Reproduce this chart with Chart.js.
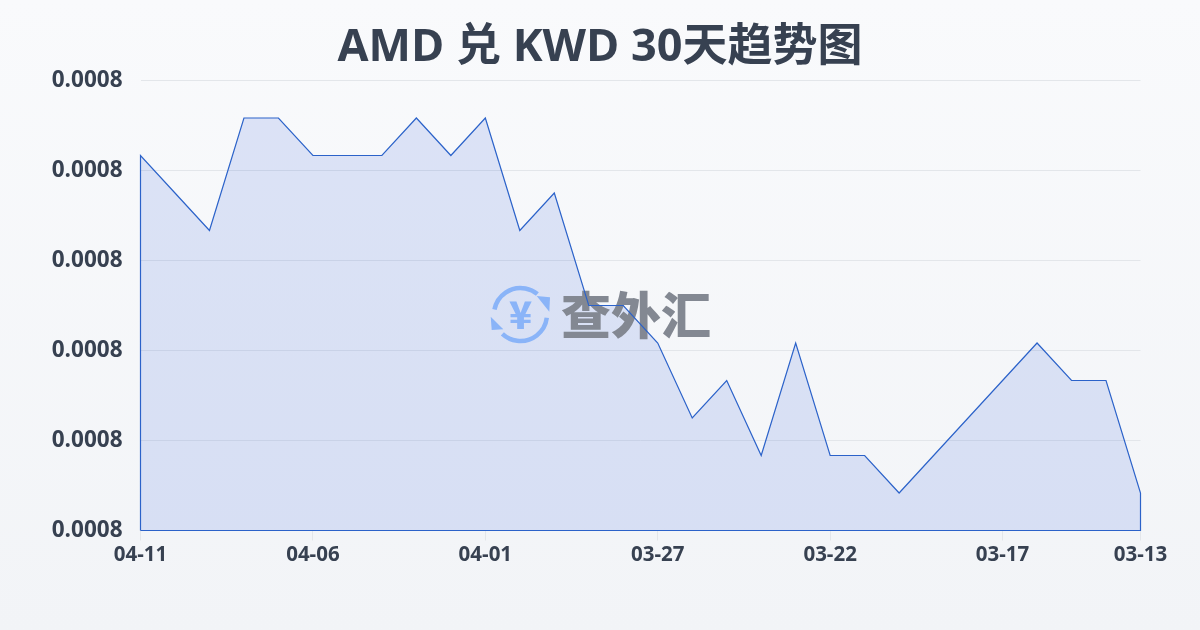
<!DOCTYPE html>
<html>
<head>
<meta charset="utf-8">
<title>AMD 兑 KWD</title>
<script src="https://cdn.jsdelivr.net/npm/chart.js@4"></script>
<style>
  html, body { margin: 0; padding: 0; }
  body { width: 1200px; height: 630px; overflow: hidden; position: relative;
         background: linear-gradient(180deg, #f9fafc 0%, #f2f4f7 100%); }
  canvas { position: absolute; left: 0; top: 0; }
</style>
</head>
<body>
<canvas id="trendChart" width="1200" height="630"></canvas>
<script>
const titleText = 'AMD 兑 KWD 30天趋势图';
const watermarkText = '查外汇';
const dates = ['04-11','04-10','04-09','04-08','04-07','04-06','04-05','04-04','04-03','04-02',
               '04-01','03-31','03-30','03-29','03-28','03-27','03-26','03-25','03-24','03-23',
               '03-22','03-21','03-20','03-19','03-18','03-17','03-16','03-15','03-14','03-13'];
const rates = [0.000780,0.000779,0.000778,0.000781,0.000781,0.000780,0.000780,0.000780,0.000781,0.000780,
               0.000781,0.000778,0.000779,0.000776,0.000776,0.000775,0.000773,0.000774,0.000772,0.000775,
               0.000772,0.000772,0.000771,0.000772,0.000773,0.000774,0.000775,0.000774,0.000774,0.000771];
const xTickIndexes = [0, 5, 10, 15, 20, 25, 29];
const yTicks = [0.000770, 0.0007724, 0.0007748, 0.0007772, 0.0007796, 0.000782];
const yTickLabels = ['0.0008','0.0008','0.0008','0.0008','0.0008','0.0008'];

const yMin = yTicks[0];
const yMax = yTicks[yTicks.length - 1];
const lastIndex = rates.length - 1;

const areaPoints = rates.map((v, i) => ({ x: i, y: v }));
// the outline runs down both sides and along the bottom, so the path is closed
const outlinePoints = [{ x: 0, y: yMin }]
  .concat(areaPoints)
  .concat([{ x: lastIndex, y: yMin }, { x: 0, y: yMin }]);

const textColor = '#374151';
const fontFamily = "'Open Sans', 'Noto Sans CJK SC', sans-serif";

// logo sits above the fill but under the outline
const watermark = {
  id: 'watermark',
  afterDatasetDraw(chart, args) {
    if (args.index !== 1) return;
    const ctx = chart.ctx;
    const blue = '#8ab4f8';
    ctx.save();
    ctx.strokeStyle = blue;
    ctx.fillStyle = blue;
    ctx.lineWidth = 4.5;
    ctx.beginPath();
    ctx.arc(520.5, 314.5, 26.5, Math.PI * 1.06, Math.PI * 1.72);
    ctx.stroke();
    ctx.beginPath();
    ctx.arc(520.5, 314.5, 26.5, Math.PI * 0.04, Math.PI * 0.74);
    ctx.stroke();
    ctx.beginPath();
    ctx.moveTo(536.7, 296); ctx.lineTo(550, 297.3); ctx.lineTo(549.3, 311.7);
    ctx.closePath();
    ctx.fill();
    ctx.beginPath();
    ctx.moveTo(490.7, 316.7); ctx.lineTo(503.3, 329.3); ctx.lineTo(491.7, 330);
    ctx.closePath();
    ctx.fill();
    ctx.textAlign = 'center';
    ctx.textBaseline = 'alphabetic';
    ctx.font = "900 38px 'Noto Sans CJK SC'";
    ctx.fillText('¥', 520.5, 329);
    ctx.textAlign = 'left';
    ctx.font = "900 50px 'Noto Sans CJK SC'";
    ctx.fillStyle = '#838892';
    ctx.fillText(watermarkText, 561, 334);
    ctx.restore();
  }
};

new Chart(document.getElementById('trendChart'), {
  type: 'line',
  data: {
    datasets: [{
      data: outlinePoints,
      borderColor: '#2b62c9',
      borderWidth: 1.2,
      fill: false,
      clip: false,
      tension: 0,
      pointRadius: 0
    }, {
      data: areaPoints,
      borderWidth: 0,
      backgroundColor: 'rgba(29, 78, 216, 0.13)',
      fill: 'start',
      tension: 0,
      pointRadius: 0
    }]
  },
  plugins: [watermark],
  options: {
    responsive: false,
    animation: false,
    plugins: {
      legend: { display: false },
      tooltip: { enabled: false },
      title: {
        display: true,
        text: titleText,
        color: textColor,
        font: { family: fontFamily, size: 45, weight: '700', lineHeight: 1.2 },
        padding: { top: 21, bottom: 5.5 }
      }
    },
    scales: {
      x: {
        type: 'linear',
        min: 0,
        max: lastIndex,
        afterBuildTicks: (axis) => { axis.ticks = xTickIndexes.map(v => ({ value: v })); },
        afterFit: (axis) => { axis.height = 99.5; },
        border: { display: false },
        grid: { drawOnChartArea: false, drawTicks: true, tickLength: 10, color: '#e3e6ea' },
        ticks: {
          autoSkip: false,
          maxRotation: 0,
          padding: 2,
          color: textColor,
          font: { family: fontFamily, size: 20.5, weight: '700' },
          callback: (value) => dates[value]
        }
      },
      y: {
        min: yMin,
        max: yMax,
        afterBuildTicks: (axis) => { axis.ticks = yTicks.map(v => ({ value: v })); },
        afterFit: (axis) => { axis.width = 140.5; },
        border: { display: false },
        grid: { drawTicks: false, color: '#e3e6ea' },
        ticks: {
          padding: 18,
          color: textColor,
          font: { family: fontFamily, size: 22.5, weight: '700' },
          callback: (value, index) => yTickLabels[index]
        }
      },
      // empty axis, keeps the right margin without moving the centred title
      rightMargin: {
        position: 'right',
        afterFit: (axis) => { axis.width = 59.5; },
        border: { display: false },
        grid: { display: false },
        ticks: { display: false }
      }
    }
  }
});
</script>
</body>
</html>
